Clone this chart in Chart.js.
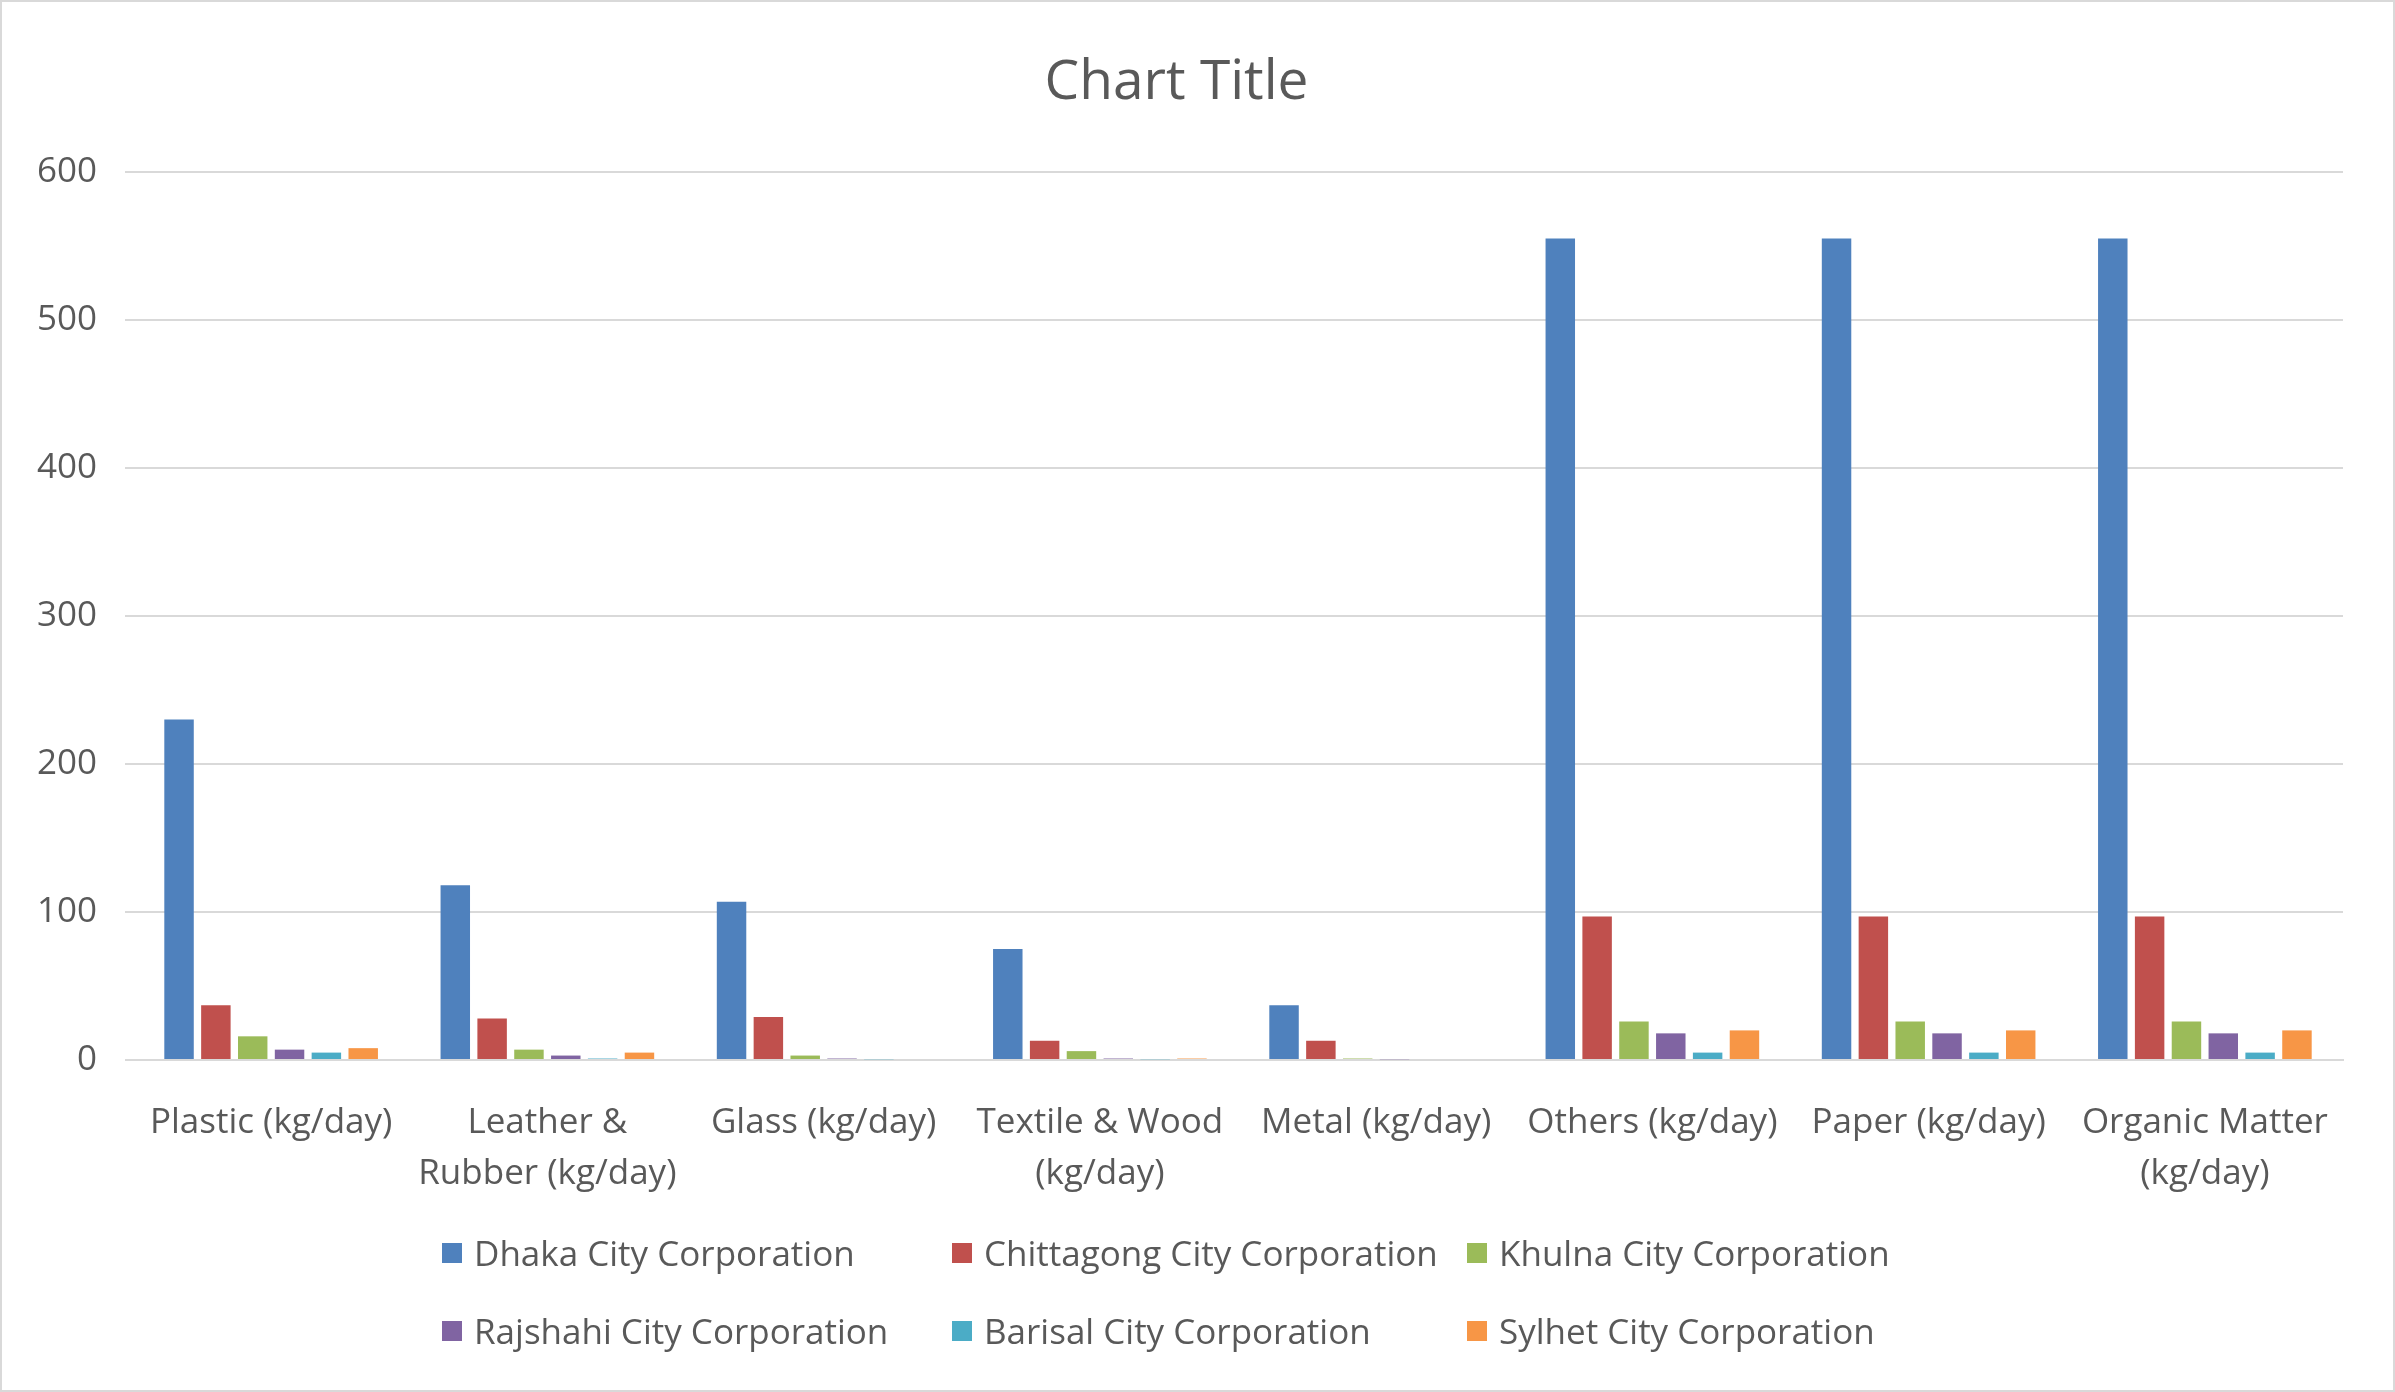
<!DOCTYPE html><html><head><meta charset="utf-8">
<script src="https://cdn.jsdelivr.net/npm/chart.js@4"></script>
<style>body{margin:0;background:#fff}#w{position:relative;width:2395px;height:1392px;box-sizing:border-box;border:2px solid #d9d9d9}
#lg{position:absolute;left:0;top:1215px;width:2395px;font:35px "Open Sans",sans-serif;color:#595959}
.it{position:absolute;display:flex;align-items:center;white-space:nowrap}.sw{width:20px;height:20px;margin-right:12px}</style></head><body>
<div id="w"><canvas id="c" width="2391" height="1388"></canvas><div id="lg"></div></div>
<script>
const categories=[["Plastic (kg/day)"],["Leather &","Rubber (kg/day)"],["Glass (kg/day)"],["Textile & Wood","(kg/day)"],["Metal (kg/day)"],["Others (kg/day)"],["Paper (kg/day)"],["Organic Matter","(kg/day)"]];
const seriesNames=["Dhaka City Corporation","Chittagong City Corporation","Khulna City Corporation","Rajshahi City Corporation","Barisal City Corporation","Sylhet City Corporation"];
const colors=["#4f81bd","#c0504d","#9bbb59","#8064a2","#4bacc6","#f79646"];
const dhaka=[230,118,107,75,37,555,555,555];
const chittagong=[37,28,29,13,13,97,97,97];
const khulna=[16,7,3,6,1,26,26,26];
const rajshahi=[7,3,1,1,0.5,18,18,18];
const barisal=[5,1,0.5,0.5,0,5,5,5];
const sylhet=[8,5,0,1,0,20,20,20];
const values=[dhaka,chittagong,khulna,rajshahi,barisal,sylhet];
const F='"Open Sans",sans-serif',G='#595959';
new Chart(document.getElementById('c'),{type:'bar',
data:{labels:categories,datasets:seriesNames.map((n,i)=>({label:n,data:values[i],backgroundColor:colors[i]}))},
options:{responsive:false,animation:false,categoryPercentage:0.8,barPercentage:0.8,
layout:{padding:{left:8,right:50,bottom:180}},
plugins:{legend:{display:false},tooltip:{enabled:false},title:{display:true,text:'Chart Title',color:G,font:{family:F,size:55,weight:'normal'},padding:{top:48,bottom:56}}},
scales:{y:{min:0,max:600,ticks:{stepSize:100,color:G,font:{family:F,size:35},padding:28},grid:{color:'#d9d9d9',lineWidth:2},border:{display:false},afterFit(s){s.width=123}},
x:{grid:{display:false},border:{color:'#d9d9d9',width:2},ticks:{color:G,font:{family:F,size:35,lineHeight:1.45},maxRotation:0,autoSkip:false,padding:30},afterFit(s){s.height=150}}}}});
const pos=[[440,1252],[950,1252],[1465,1252],[440,1330],[950,1330],[1465,1330]];
const lg=document.getElementById('lg');
seriesNames.forEach((n,i)=>{const d=document.createElement('div');d.className='it';d.style.left=pos[i][0]+'px';d.style.top=(pos[i][1]-1215-25)+'px';d.innerHTML='<span class="sw" style="background:'+colors[i]+'"></span>'+n;lg.appendChild(d);});
</script></body></html>
